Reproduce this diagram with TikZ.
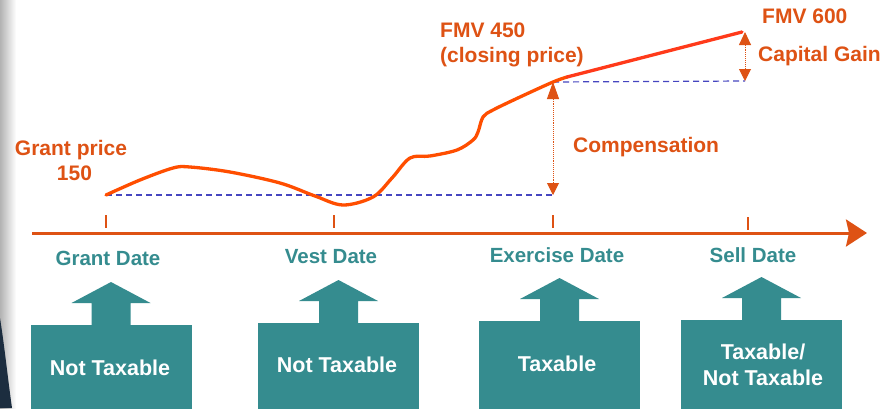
\documentclass[tikz,border=0pt]{standalone}
\usepackage{fontspec}
\setmainfont{Liberation Sans}
\usetikzlibrary{arrows.meta,calc}
\definecolor{orng}{HTML}{DE5214}
\definecolor{curvecol}{HTML}{FF4E00}
\definecolor{curvered}{HTML}{FF3A1A}
\definecolor{tealc}{HTML}{358C8F}
\definecolor{dashblue}{HTML}{4646C0}
\definecolor{edgedark}{HTML}{1C2D3F}
\tikzset{
  orlbl/.style={text=orng, font=\fontsize{21}{25}\selectfont\bfseries, inner sep=0pt},
  datelbl/.style={text=tealc, font=\fontsize{20.5}{24}\selectfont\bfseries, inner sep=0pt},
  taxbox/.style={fill=tealc, text=white, minimum width=161pt, inner sep=0pt, anchor=north},
  boxtxt/.style={text=white, font=\fontsize{21.5}{26}\selectfont\bfseries, align=center, inner sep=0pt},
  tickmark/.style={orng, line width=2pt},
  guide/.style={dashblue, line width=1.2pt, dash pattern=on 6pt off 4pt},
  measure/.style={orng, line width=0.9pt, densely dotted},
}
\begin{document}
\begin{tikzpicture}[x=1pt,y=-1pt]
\useasboundingbox (0,0) rectangle (885,408);
\fill[white] (0,0) rectangle (885,408);
% left page edge
\shade[left color=black!30, right color=white] (0,0) rectangle (16,408);
\fill[edgedark] (0,318) .. controls (5,350) and (8,380) .. (12,408) -- (0,408) -- cycle;

% time axis
\coordinate (ax0) at (32,233);
\coordinate (ax1) at (867,233);
\draw[orng, line width=3pt, -{Stealth[length=21pt, width=27pt, inset=3pt]}] (ax0) -- (ax1);
\coordinate (t1) at (106,215);
\coordinate (t2) at (334,215);
\coordinate (t3) at (553,215);
\coordinate (t4) at (748,217);
\foreach \t in {t1,t2,t3,t4} \draw[tickmark] (\t) -- ++(0,13);

% key points
\coordinate (gp) at (106,195);
\coordinate (exb) at (553,195);
\coordinate (ex) at (553,82);
\coordinate (slb) at (745,81);
\coordinate (sl) at (745,32);
\coordinate (bend) at (567,77);
\coordinate (top) at (742,32);

% guides
\draw[guide] (gp) -- (exb);
\draw[guide] (ex) -- (slb);

% price curve
\draw[curvecol, line width=3.3pt, line cap=round, line join=round]
  plot[smooth, tension=0.55] coordinates {(106,195) (140,180) (173,168) (190,167) (230,172) (280,183) (315,196) (343,205) (373,197) (392,178) (410,158) (430,156) (457,150) (473,140) (478,132) (483,117) (493,110) (520,97) (553,82) (567,77)};
\draw[curvered, line width=3.3pt, line cap=round] (bend) -- (top);

% measures
\draw[measure, {Triangle[length=17pt, width=12pt]}-{Triangle[length=12pt, width=12pt]}] (ex) -- (exb);
\draw[measure, {Triangle[length=13pt, width=12pt]}-{Triangle[length=12pt, width=12pt]}] (sl) -- (slb);

% orange labels
\node[orlbl, align=center] (gpl) at (71,160.5) {Grant price\\[-0.5pt]\,\,150};
\node[orlbl, align=left, anchor=west] (fmv450) at (440,45) {FMV 450\\(closing price)};
\node[orlbl, anchor=west] (fmv600) at (762,16) {FMV 600};
\node[orlbl, anchor=west] (cg) at (758,56) {Capital Gain};
\node[orlbl, anchor=west] (comp) at (573,147) {Compensation};

% date labels
\node[datelbl] (l1) at (108,258) {Grant Date};
\node[datelbl] (l2) at (331,257) {Vest Date};
\node[datelbl] (l3) at (557,255) {Exercise Date};
\node[datelbl] (l4) at (753,255) {Sell Date};

% boxes
\node[taxbox, minimum height=100pt] (b1) at (111,325) {};
\node[taxbox, minimum height=100pt] (b2) at (338.5,323) {};
\node[taxbox, minimum height=100pt] (b3) at (559.5,321) {};
\node[taxbox, minimum height=100pt] (b4) at (761.5,320) {};
\foreach \b in {b1,b2,b3,b4}
  \fill[tealc] ($(\b.north)+(-19.5,0.5)$) -- ($(\b.north)+(-19.5,-22)$) -- ($(\b.north)+(-39.5,-22)$)
     -- ($(\b.north)+(0,-43)$) -- ($(\b.north)+(39.5,-22)$) -- ($(\b.north)+(19.5,-22)$)
     -- ($(\b.north)+(19.5,0.5)$) -- cycle;
\node[boxtxt] (bt1) at (110,368) {Not Taxable};
\node[boxtxt] (bt2) at (337,365) {Not Taxable};
\node[boxtxt] (bt3) at (557,364) {Taxable};
\node[boxtxt] (bt4) at (763,365) {Taxable/\\Not Taxable};
\end{tikzpicture}
\end{document}
